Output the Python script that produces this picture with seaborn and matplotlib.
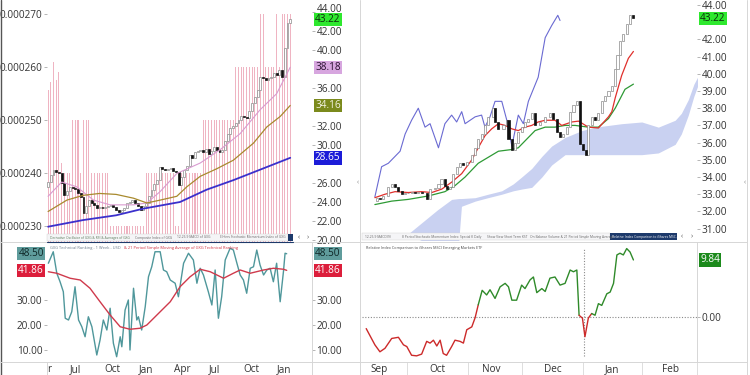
import numpy as np
import matplotlib
matplotlib.use("Agg")
import matplotlib.pyplot as plt
import matplotlib.transforms as mtransforms
from matplotlib.lines import Line2D
from matplotlib.patches import Rectangle
import seaborn as sns

# ---------------- DATA ----------------
# Left panel: weekly GXG price (right axis) and ranking bars (left axis)
gxg_close = [26.1, 26.8, 27.4, 27.2, 27.0, 26.0, 24.7, 25.2, 25.6, 25.5,
             25.4, 24.9, 24.5, 22.8, 23.6, 24.2, 23.9, 23.7, 23.4, 23.5,
             23.4, 23.5, 23.6, 23.7, 23.5, 23.2, 22.9, 23.2, 23.4, 23.9,
             24.0, 24.2, 23.9, 23.6, 23.2, 23.6, 23.9, 24.6, 25.3, 25.9,
             26.3, 27.7, 27.5, 27.4, 27.5, 27.6, 27.3, 27.2, 25.8, 26.6,
             27.4, 27.8, 28.9, 28.6, 29.3, 29.4, 29.5, 29.3, 29.6, 29.0,
             29.4, 29.8, 29.5, 29.3, 29.5, 30.4, 31.2, 31.8, 32.0, 32.3,
             32.6, 33.0, 32.9, 32.8, 33.6, 34.4, 35.1, 35.8, 37.2, 37.0,
             36.8, 37.0, 37.2, 37.6, 37.4, 37.9, 37.2, 40.2, 42.8, 43.22]
gxg_first_open = 25.6

ma10_w = [0, 5, 10.5, 16.7, 22.8, 31.4, 36.3, 41.2, 47.3, 55.9, 63.2, 70.6, 77.9, 84, 89]
ma10_v = [24.6, 26.1, 25.6, 24.2, 23.7, 23.7, 23.9, 25.1, 27.0, 28.1, 29.5, 31.2, 33.7, 35.4, 38.18]
ma30_w = [0, 6.9, 12.9, 18.9, 25, 31.4, 36.3, 41.2, 47.3, 51, 55.9, 62, 68.1, 75.5, 80.4, 85.3, 89]
ma30_v = [23.0, 24.2, 24.7, 24.9, 24.8, 24.4, 23.9, 24.2, 24.6, 25.6, 26.7, 27.5, 28.4, 30.2, 31.9, 33.0, 34.16]
ma40_w = [0, 12.9, 25, 35, 48.5, 58.3, 68.1, 77.9, 89]
ma40_v = [21.4, 22.1, 22.6, 23.3, 24.0, 25.3, 26.3, 27.4, 28.65]

rank_levels = [255.7, 257.2, 261.0, 257.5, 259.1, 241.9, 240, 250, 240, 250, 240,
               230, 240, 230, 240, 250, 260, 270, 260, 270, 260, 270]   # x 1e-6
rank_counts = [1, 1, 1, 1, 1, 1, 3, 3, 1, 3, 7, 13, 11, 2, 8, 12, 9, 2, 4, 1, 1, 4]

tech_w = [0.1, 1.9, 3.2, 4.4, 5.6, 6.3, 7.5, 8.7, 9.9, 11.2, 12.4, 13.6, 14.8, 16.1, 17.9,
          19.1, 20.3, 21.6, 22.8, 24.0, 25.2, 26.5, 27.1, 28.3, 29.5, 30.1, 31.4, 32.6, 33.2,
          34.4, 35.7, 36.9, 38.1, 39.3, 41.2, 42.4, 43.6, 44.9, 46.7, 47.9, 49.8, 51.6, 53.4,
          54.7, 55.9, 57.1, 58.9, 60.2, 61.4, 62.6, 63.8, 65.1, 66.9, 68.1, 69.4, 70.6, 71.8,
          73.0, 74.3, 75.5, 76.7, 77.9, 79.2, 80.4, 81.6, 82.8, 84.0, 85.3, 86.5, 87.1, 87.7]
tech_v = [44.7, 49.3, 40.7, 37.3, 33.3, 22.7, 22.0, 25.3, 35.3, 22.0, 19.3, 15.3, 23.3, 19.3, 8.0,
          14.0, 22.0, 18.0, 26.7, 12.7, 7.3, 15.3, 11.3, 26.0, 30.0, 10.0, 34.7, 22.0, 23.3,
          18.0, 27.3, 39.3, 43.3, 49.3, 49.3, 42.0, 41.3, 38.0, 36.7, 31.3, 44.7, 48.7, 46.0,
          36.7, 42.7, 40.0, 33.3, 28.0, 42.0, 22.7, 31.3, 46.0, 50.7, 50.0, 44.7, 40.0, 38.0,
          32.7, 42.7, 43.3, 50.0, 44.0, 40.0, 42.0, 42.7, 37.3, 44.7, 29.3, 41.3, 48.7, 48.5]
tech_sma_w = [0.1, 3.2, 8.1, 11.8, 15.4, 19.1, 22.8, 26.5, 30.1, 33.8, 36.3, 41.2, 44.9,
              48.5, 52.2, 55.9, 59.6, 64.5, 68.1, 70.6, 74.3, 79.2, 82.8, 86.5, 87.7]
tech_sma_v = [41.3, 40.7, 38.7, 38.0, 34.7, 29.3, 24.0, 19.3, 18.3, 18.7, 20.0, 25.3, 29.3,
              35.3, 39.3, 42.3, 41.3, 38.7, 40.7, 42.0, 40.7, 42.0, 42.7, 42.3, 41.86]

left_tick_pos = [0.3, 10, 23.5, 36, 49.3, 61, 74.6, 86.8]
left_tick_lab = ["r", "Jul", "Oct", "Jan", "Apr", "Jul", "Oct", "Jan"]
left_price_ticks = [20, 22, 24, 26, 30, 32, 36, 40, 42, 44]
left_rank_ticks = [0.00023, 0.00024, 0.00025, 0.00026, 0.00027]
left_low_ticks = [10, 20, 30]

# Right panel: daily GXG with Ichimoku, and relative index
day_d = [5.2, 6.4, 7.6, 9.4, 10.6, 11.8, 13.0, 14.2, 15.4, 16.5, 17.7, 18.9, 20.1, 21.3,
         23.1, 24.3, 26.1, 27.3, 28.4, 29.6, 30.2, 31.4, 32.6, 33.8, 35.0, 36.2, 37.4, 39.2,
         40.4, 41.5, 42.7, 43.9, 45.1, 46.9, 47.5, 48.7, 50.5, 51.7, 52.3, 53.5, 54.6, 55.8,
         57.0, 58.2, 59.4, 60.6, 61.8, 63.6, 65.4, 67.1, 68.3, 69.5, 70.7, 71.9, 73.1, 74.3,
         75.5, 76.7, 77.9, 79.0, 79.9, 80.8, 82.0, 83.2, 84.4, 85.6, 86.8, 88.0, 89.2, 90.4,
         91.2, 92.1, 93.3, 94.5, 95.7, 96.9]
day_close = [32.8, 32.7, 32.9, 33.4, 33.6, 33.4, 33.2, 33.0, 33.1, 33.1, 33.15, 33.1, 33.15, 33.1,
             32.7, 33.3, 33.35, 33.6, 33.9, 33.5, 33.3, 33.4, 34.2, 34.6, 34.8, 34.7, 34.9, 35.3,
             35.7, 36.2, 36.5, 37.0, 37.5, 38.0, 37.2, 36.8, 37.0, 37.3, 36.2, 35.6, 36.0, 36.6,
             36.9, 37.2, 37.4, 37.7, 37.0, 37.2, 37.5, 37.7, 37.4, 36.6, 36.3, 36.5, 36.9, 37.8,
             38.2, 38.4, 35.9, 35.6, 35.3, 37.0, 37.5, 37.3, 37.7, 38.4, 38.7, 39.0, 39.3, 40.3,
             41.1, 41.9, 42.3, 42.9, 43.4, 43.22]
day_first_open = 32.6

tenkan_d = [4.6, 8.2, 11.8, 16.5, 21.3, 24.9, 28.5, 32.0, 35.6, 39.2, 41.5, 43.9, 46.3, 48.7,
            51.1, 53.5, 55.8, 58.2, 60.6, 62.9, 65.4, 68.9, 71.3, 74.9, 77.3, 80.8, 84.4, 88.0,
            89.2, 90.4, 92.7, 95.1, 96.9]
tenkan_v = [32.8, 33.0, 33.15, 33.1, 33.15, 33.1, 33.3, 33.7, 34.2, 35.0, 35.7, 36.4, 36.8, 37.1,
            37.0, 36.8, 36.7, 36.9, 37.0, 37.2, 37.3, 37.3, 37.0, 37.2, 37.25, 36.9, 36.85, 37.5,
            37.8, 38.6, 39.9, 40.9, 41.3]
kijun_d = [4.6, 10.6, 16.5, 23.7, 29.6, 33.2, 36.8, 41.5, 48.7, 53.5, 55.8, 58.2, 61.8, 65.4,
           68.9, 72.5, 76.1, 80.8, 84.4, 88.0, 90.4, 93.9, 96.9]
kijun_v = [32.4, 32.6, 32.7, 32.9, 33.15, 33.5, 34.0, 34.8, 35.5, 35.6, 35.7, 36.1, 36.7, 36.9,
           36.9, 37.0, 37.0, 36.9, 36.9, 37.4, 38.0, 39.1, 39.4]
lag_d = [4.6, 7.0, 9.4, 11.8, 13.6, 15.4, 17.7, 20.1, 22.5, 24.3, 27.3, 29.6, 32.0, 33.8, 35.6,
         36.8, 40.4, 42.7, 43.9, 45.7, 47.5, 49.9, 51.7, 53.5, 55.8, 57.6, 59.4, 62.9, 65.4,
         67.7, 69.9, 70.7]
lag_v = [32.85, 34.6, 34.8, 35.2, 35.5, 36.5, 37.3, 38.0, 36.9, 37.1, 35.7, 37.1, 37.6, 37.2,
         37.8, 37.1, 37.5, 37.6, 36.9, 37.5, 38.4, 38.4, 37.3, 35.8, 37.6, 37.1, 38.4, 39.8,
         42.1, 42.8, 43.4, 43.1]
cloud_d = [16.5, 22.5, 27, 32, 34.5, 35.5, 40.4, 45, 49.9, 54, 57, 60.6, 64.2, 67.7, 72.5,
           78.5, 83.2, 88, 92.7, 99.9, 105.8, 111.8, 114, 116.5, 118.5, 120.1]
cloud_top = [30.7, 31.5, 32.1, 32.7, 32.75, 32.75, 32.8, 33.0, 33.2, 33.6, 34.0, 34.5, 35.2,
             35.8, 36.3, 36.7, 36.9, 37.0, 37.1, 37.2, 36.9, 37.3, 37.7, 38.5, 39.4, 39.9]
cloud_bot = [30.7, 30.2, 30.2, 30.2, 30.2, 32.3, 32.6, 32.8, 33.0, 33.2, 33.3, 33.4, 34.0,
             34.7, 35.3, 35.3, 35.3, 35.3, 35.3, 35.3, 35.4, 35.9, 36.5, 37.6, 38.7, 39.4]
right_price_ticks = [31, 32, 33, 34, 35, 36, 37, 38, 39, 40, 41, 42, 44]

rel_d = [1.5, 4.6, 6.4, 8.2, 10.6, 13.0, 14.8, 16.0, 17.7, 19.5, 21.3, 23.1, 24.3, 25.5, 26.7,
         27.9, 29.0, 30.2, 32.0, 33.2, 35.0, 36.2, 37.4, 39.2, 40.4, 41.5, 42.9, 44.5, 45.7,
         47.5, 49.3, 51.1, 52.3, 53.5, 55.2, 57.0, 58.2, 60.0, 61.2, 62.4, 64.2, 65.4, 67.1,
         68.9, 70.7, 72.5, 74.3, 75.5, 76.7, 77.5, 78.7, 79.6, 80.8, 82.0, 83.2, 84.4, 85.6,
         87.4, 88.6, 89.8, 91.0, 92.1, 93.3, 94.5, 95.7, 96.9]
rel_v = [-2.0, -4.8, -6.0, -5.4, -3.7, -3.5, -4.8, -5.1, -6.6, -6.7, -6.4, -4.2, -4.5, -4.0, -5.0,
         -4.0, -6.3, -6.6, -5.1, -4.0, -4.2, -4.5, -2.2, -1.7, -0.1, 2.1, 4.6, 3.8, 4.7,
         3.2, 5.2, 5.8, 5.2, 2.9, 2.9, 5.5, 4.9, 6.4, 6.9, 4.2, 4.9, 4.4, 6.7,
         6.9, 5.5, 5.8, 8.1, 7.8, 8.1, 0.3, -0.2, -3.4, -0.2, 0.6, 0.3, 2.3, 2.0,
         4.0, 4.3, 5.8, 10.7, 11.0, 10.7, 11.8, 11.2, 9.84]
rel_marker_d = 79.3

month_pos = [6.1, 26.8, 46.1, 68.2, 89.3, 110.0]
month_lab = ["Sep", "Oct", "Nov", "Dec", "Jan", "Feb"]
month_bounds = [16.1, 37.9, 57.1, 78.9, 100.0, 119.6]

left_tabs = ["Derivative Oscillator of GXG & RSI & Averages of GXG", "Composite Index of GXG",
             "12-26-9 MACD of GXG", "Elhlers Stochastic Momentum Index of GXG"]
right_tabs = ["12-26-9 MACD(9)", "8 Period Stochastic Momentum Index", "Special K Daily",
              "Show View Short Term KST", "On Balance Volume & 21 Period Simple Moving Average"]
right_active_tab = "Relative Index Comparison to iShares MSC..."

# ---------------- STYLE / LAYOUT ----------------
sns.set_theme(style="white")
plt.rcParams["font.family"] = ["Open Sans", "DejaVu Sans"]
plt.rcParams["axes.linewidth"] = 0.6

W, H = 750, 375
fig = plt.figure(figsize=(7.5, 3.75), dpi=100)
fig.patch.set_facecolor("white")

TXT = "#333333"
FS = 7.2


def rect(x0, y0, x1, y1):
    return [x0 / W, 1 - y1 / H, (x1 - x0) / W, (y1 - y0) / H]


def fline(x0, y0, x1, y1, color="#d6d6d6", lw=0.7, ls="-"):
    fig.add_artist(Line2D([x0 / W, x1 / W], [1 - y0 / H, 1 - y1 / H],
                          transform=fig.transFigure, color=color, lw=lw, ls=ls))


def ftext(x, y, s, **kw):
    fig.text(x / W, 1 - y / H, s, **kw)


def clean(ax):
    for s in ax.spines.values():
        s.set_visible(False)
    ax.set_facecolor("none")


def candles(ax, x, first_open, closes, width, up_edge, down_col, lw=0.5):
    x = np.asarray(x, float)
    c = np.asarray(closes, float)
    o = np.concatenate([[first_open], c[:-1]])
    up = c >= o
    ax.bar(x[up], (c - o)[up], bottom=o[up], width=width, facecolor="white",
           edgecolor=up_edge, linewidth=lw, zorder=3)
    ax.bar(x[~up], (c - o)[~up], bottom=o[~up], width=width, facecolor=down_col,
           edgecolor=down_col, linewidth=lw, zorder=3)


def tag(ax, y, s, fc, tc, side="right", dx=2.2):
    if side == "right":
        ax.annotate(s, xy=(1, y), xycoords=("axes fraction", "data"), xytext=(dx, 0),
                    textcoords="offset points", ha="left", va="center", fontsize=FS,
                    color=tc, annotation_clip=False, zorder=20,
                    bbox=dict(boxstyle="square,pad=0.12", fc=fc, ec="none"))
    else:
        ax.annotate(s, xy=(0, y), xycoords=("axes fraction", "data"), xytext=(-dx, 0),
                    textcoords="offset points", ha="right", va="center", fontsize=FS,
                    color=tc, annotation_clip=False, zorder=20,
                    bbox=dict(boxstyle="square,pad=0.12", fc=fc, ec="none"))


ytick_kw = dict(length=2, width=0.6, color="#aaaaaa", pad=1.2, labelsize=FS, labelcolor=TXT)

# ---------------- LEFT TOP ----------------
weeks = np.arange(len(gxg_close))
levels = np.repeat(np.asarray(rank_levels) * 1e-6, rank_counts)
axL = fig.add_axes(rect(47, 0, 312, 242))
clean(axL)
ylo, yhi = 0.00022698, 0.00027264
axL.set_xlim(-0.4, 97.0)
axL.set_ylim(ylo, yhi)
axL.bar(weeks, levels - ylo, bottom=ylo, width=0.38, facecolor="#efb4c2",
        edgecolor="none", linewidth=0)
axL.set_xticks([])
axL.set_yticks(left_rank_ticks, [f"{v:.6f}" for v in left_rank_ticks])
axL.tick_params(axis="y", left=True, labelleft=True, **ytick_kw)

axP = axL.twinx()
clean(axP)
axP.set_ylim(19.79, 45.26)
candles(axP, weeks, gxg_first_open, gxg_close, 0.7, "#8a8a8a", "#111111", lw=0.5)
sns.lineplot(x=ma10_w, y=ma10_v, ax=axP, color="#d99bd0", lw=0.8, estimator=None, zorder=4)
sns.lineplot(x=ma30_w, y=ma30_v, ax=axP, color="#a88a2e", lw=0.9, estimator=None, zorder=4)
sns.lineplot(x=ma40_w, y=ma40_v, ax=axP, color="#3b30cc", lw=1.3, estimator=None, zorder=4)
axP.set_xlim(-0.4, 97.0)
axP.set_yticks(left_price_ticks, [f"{v:.2f}" for v in left_price_ticks])
axP.tick_params(axis="y", right=True, labelright=True, left=False, labelleft=False, **ytick_kw)
# the top label sits partly behind the 43.22 tag in the reference; nudge it up a little
top_lab = axP.get_yticklabels()[-1]
top_lab.set_transform(top_lab.get_transform() + mtransforms.ScaledTranslation(0, 3 / 72, fig.dpi_scale_trans))
axP.set_xlabel("")
axP.set_ylabel("")
tag(axP, 43.22, "43.22", "#2ee82e", "#0b2a0b")
tag(axP, 38.18, "38.18", "#d7a6df", "#2a1030")
tag(axP, 34.16, "34.16", "#7b8a1c", "#f2f2e0")
tag(axP, 28.65, "28.65", "#1c1cd8", "white")

# ---------------- LEFT BOTTOM ----------------
axLB = fig.add_axes(rect(47, 243, 312, 362))
clean(axLB)
sns.lineplot(x=tech_w, y=tech_v, ax=axLB, color="#4f979b", lw=1.0, estimator=None)
sns.lineplot(x=tech_sma_w, y=tech_sma_v, ax=axLB, color="#cf3a4c", lw=1.0, estimator=None)
axLB.set_xlim(-0.4, 97.0)
axLB.set_ylim(5.2, 52.8)
axLB.set_xlabel("")
axLB.set_ylabel("")
axLB.set_yticks(left_low_ticks, [f"{v:.2f}" for v in left_low_ticks])
axLB.tick_params(axis="y", left=True, right=True, labelleft=True, labelright=True, **ytick_kw)
axLB.set_xticks(left_tick_pos, left_tick_lab)
axLB.tick_params(axis="x", length=0, pad=1.5, labelsize=FS, labelcolor=TXT)
for side in ("left", "right"):
    tag(axLB, 48.5, "48.50", "#5f9c9c", "#0e2626", side=side)
    tag(axLB, 41.86, "41.86", "#dc1e3b", "white", side=side)
axLB.text(0.012, 0.975, "GXG Technical Ranking - 1 Week - USD", transform=axLB.transAxes,
          fontsize=2.9, color="#6b7b8b", va="top", ha="left")
axLB.text(0.29, 0.975, "& 21 Period Simple Moving Average of GXG Technical Ranking",
          transform=axLB.transAxes, fontsize=2.9, color="#d03040", va="top", ha="left")

# ---------------- RIGHT TOP ----------------
axR = fig.add_axes(rect(362, 0, 697, 240))
clean(axR)
axR.set_xlim(0, 119.6)
axR.set_ylim(30.34, 44.29)
axR.fill_between(cloud_d, cloud_bot, cloud_top, color="#c9d1f1", lw=0, zorder=1)
sns.lineplot(x=lag_d, y=lag_v, ax=axR, color="#6a6ad2", lw=0.8, estimator=None, zorder=2)
sns.lineplot(x=kijun_d, y=kijun_v, ax=axR, color="#2e9a35", lw=0.9, estimator=None, zorder=2)
sns.lineplot(x=tenkan_d, y=tenkan_v, ax=axR, color="#e0302c", lw=0.9, estimator=None, zorder=2)
candles(axR, day_d, day_first_open, day_close, 0.75, "#8a8a8a", "#111111", lw=0.5)
axR.set_xlabel("")
axR.set_ylabel("")
axR.set_xticks([])
axR.yaxis.tick_right()
axR.set_yticks(right_price_ticks, [f"{v:.2f}" for v in right_price_ticks])
axR.tick_params(axis="y", right=True, labelright=True, left=False, labelleft=False, **ytick_kw)
tag(axR, 43.22, "43.22", "#2ee82e", "#0b2a0b")

# ---------------- RIGHT BOTTOM ----------------
axRB = fig.add_axes(rect(362, 243, 697, 362))
clean(axRB)
axRB.set_xlim(0, 119.6)
axRB.set_ylim(-7.76, 12.76)
axRB.axhline(0, color="#8a8a8a", lw=0.8, ls=(0, (1, 1.5)), zorder=1)
axRB.axvline(rel_marker_d, color="#8a8a8a", lw=0.8, ls=(0, (1, 1.5)), ymin=0.05, ymax=0.95, zorder=1)
rd = np.asarray(rel_d, float)
rv = np.asarray(rel_v, float)
seg_red = np.minimum(rv[:-1], rv[1:]) < 0
start = 0
for i in range(1, len(seg_red) + 1):
    if i == len(seg_red) or seg_red[i] != seg_red[start]:
        col = "#cc2a2a" if seg_red[start] else "#2f8a2a"
        sns.lineplot(x=rd[start:i + 1], y=rv[start:i + 1], ax=axRB, color=col, lw=1.0,
                     estimator=None, sort=False, zorder=3)
        start = i
axRB.set_xlabel("")
axRB.set_ylabel("")
axRB.yaxis.tick_right()
axRB.set_yticks([0], ["0.00"])
axRB.tick_params(axis="y", right=True, labelright=True, left=False, labelleft=False, **ytick_kw)
axRB.set_xticks(month_pos, month_lab)
axRB.tick_params(axis="x", length=0, pad=1.5, labelsize=FS, labelcolor=TXT)
tag(axRB, 9.84, "9.84", "#1c8a1c", "white")
axRB.text(0.012, 0.975, "Relative Index Comparison to iShares MSCI Emerging Markets ETF",
          transform=axRB.transAxes, fontsize=2.7, color="#444444", va="top", ha="left")
btrans = mtransforms.blended_transform_factory(axRB.transData, fig.transFigure)
for b in month_bounds:
    fig.add_artist(Line2D([b, b], [0, 13 / H], transform=btrans, color="#dddddd", lw=0.7))

# ---------------- FRAME, TAB STRIPS ----------------
fline(1, 0, 1, 375, color="#555555", lw=1.0)
fline(360, 0, 360, 375)
fline(747, 0, 747, 375)
fline(0, 242, 360, 242)
fline(360, 242, 747, 242)
fline(0, 362, 747, 362)
fline(312, 242, 312, 375)
fline(47, 362, 47, 375)
fline(697, 242, 697, 362)

# left strip
fig.add_artist(Rectangle((47 / W, 1 - 241 / H), (288 - 47) / W, 7 / H, transform=fig.transFigure,
                         fc="#f5f5f7", ec="#d0d0d0", lw=0.3))
fig.add_artist(Rectangle((288 / W, 1 - 241 / H), 5 / W, 7 / H, transform=fig.transFigure,
                         fc="#1d3a6b", ec="none"))
fline(47, 241.5, 293, 241.5, color="#1d3a6b", lw=0.8)
for s, x in zip(left_tabs, [50, 135, 177, 220]):
    ftext(x, 237.5, s, fontsize=2.3, color="#5a7a5a" if x == 50 else "#666666", va="center")
ftext(298, 237.5, "‹", fontsize=5, color="#555555", va="center")
ftext(307, 237.5, "›", fontsize=5, color="#555555", va="center")

# right strip
fig.add_artist(Rectangle((362 / W, 1 - 240 / H), (610 - 362) / W, 7 / H, transform=fig.transFigure,
                         fc="#f5f5f7", ec="#d0d0d0", lw=0.3))
fig.add_artist(Rectangle((610 / W, 1 - 240 / H), (677 - 610) / W, 7 / H, transform=fig.transFigure,
                         fc="#1d3a6b", ec="none"))
for s, x in zip(right_tabs, [365, 402, 460, 487, 530]):
    ftext(x, 236.5, s, fontsize=2.3, color="#666666", va="center")
ftext(612, 236.5, right_active_tab, fontsize=2.3, color="white", va="center")
ftext(681, 236.5, "‹", fontsize=5, color="#555555", va="center")
ftext(691, 236.5, "›", fontsize=5, color="#555555", va="center")

ftext(357, 183, "‹", fontsize=5, color="#888888", va="center")
ftext(744, 183, "‹", fontsize=5, color="#888888", va="center")

fig.savefig("out.png", dpi=100, facecolor="white")
